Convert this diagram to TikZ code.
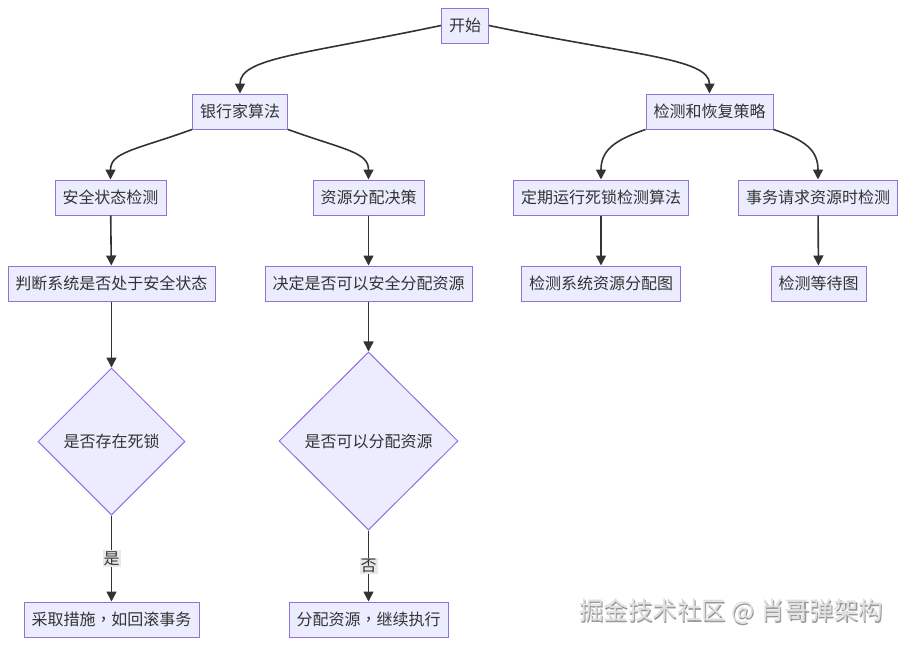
\documentclass[tikz,border=0pt]{standalone}
\usepackage{fontspec}
\newfontfamily\cjk{Noto Sans CJK SC}
\newfontfamily\cjktc{Noto Sans CJK TC}
\usepackage{tikz}
\usetikzlibrary{arrows.meta,shapes.geometric}
\definecolor{boxfill}{HTML}{ECECFF}
\definecolor{boxline}{HTML}{9370DB}
\definecolor{ink}{HTML}{333333}
\definecolor{lblbg}{HTML}{E8E8E8}
\newcommand{\zhcomma}{{\cjktc ，}}
\tikzset{
  box/.style={draw=boxline,fill=boxfill,line width=1pt,minimum height=35pt,
    inner xsep=7.5pt,inner ysep=0pt,text=ink,font=\cjk\fontsize{16}{19}\selectfont},
  choice/.style={diamond,aspect=1,draw=boxline,fill=boxfill,line width=1pt,inner sep=0pt,
    text=ink,font=\cjk\fontsize{16}{19}\selectfont},
  flow/.style={draw=ink,line width=1.6pt,-{Triangle[length=10pt,width=10pt]}},
  lbl/.style={fill=lblbg,inner sep=1pt,text=ink,font=\cjk\fontsize{16}{19}\selectfont},
  watermark/.style={font=\cjk\fontsize{24.5}{28}\selectfont}
}

\begin{document}
\begin{tikzpicture}[x=1pt,y=-1pt]
\useasboundingbox (0,0) rectangle (906,646);
% level 0 and 1
\node[box] (start) at (465,25.5) {开始};
\node[box] (bank) at (240,111.5) {银行家算法};
\node[box] (recover) at (709.5,111.5) {检测和恢复策略};
% level 2
\node[box] (safecheck) at (110.5,197.5) {安全状态检测};
\node[box] (decide) at (368.5,197.5) {资源分配决策};
\node[box] (periodic) at (601,197.5) {定期运行死锁检测算法};
\node[box] (onrequest) at (818,197.5) {事务请求资源时检测};
% level 3
\node[box] (judge) at (111.5,283.5) {判断系统是否处于安全状态};
\node[box] (maysafe) at (368.5,283.5) {决定是否可以安全分配资源};
\node[box] (rag) at (601,283.5) {检测系统资源分配图};
\node[box] (wfg) at (818.5,283.5) {检测等待图};
% decisions
\node[choice,minimum width=147pt,minimum height=147pt] (deadlock) at (111.5,441.5) {是否存在死锁};
\node[choice,minimum width=179pt,minimum height=178pt] (canalloc) at (368.5,441) {是否可以分配资源};
\node[box] (rollback) at (111.5,619.5) {采取措施\zhcomma 如回滚事务};
\node[box] (goon) at (368.5,619.5) {分配资源\zhcomma 继续执行};

\draw[flow] (start.west) .. controls (300,55) and (240,58) .. (bank.north);
\draw[flow] (start.east) .. controls (630,55) and (709.5,58) .. (recover.north);
\draw[flow] (bank.south west) .. controls (135,150) and (110.5,152) .. (safecheck.north);
\draw[flow] (bank.south east) .. controls (345,150) and (368.5,152) .. (decide.north);
\draw[flow] (recover.south west) .. controls (615,140) and (601,150) .. (periodic.north);
\draw[flow] (recover.south east) .. controls (805,140) and (818,150) .. (onrequest.north);
\draw[flow] (safecheck) -- (judge);
\draw[flow] (decide) -- (maysafe);
\draw[flow] (periodic) -- (rag);
\draw[flow] (onrequest) -- (wfg);
\draw[flow] (judge) -- (deadlock);
\draw[flow] (maysafe) -- (canalloc);
\draw[flow] (deadlock) -- node[lbl] {是} (rollback);
\draw[flow] (canalloc) -- node[lbl] {否} (goon);

% watermark
\node[watermark,text=gray!80] (markshadow) at (732.3,612.8) {掘金技术社区 @ 肖哥弹架构};
\node[watermark,text=white!88!black] (marktext) at (731,611.5) {掘金技术社区 @ 肖哥弹架构};
\end{tikzpicture}
\end{document}
